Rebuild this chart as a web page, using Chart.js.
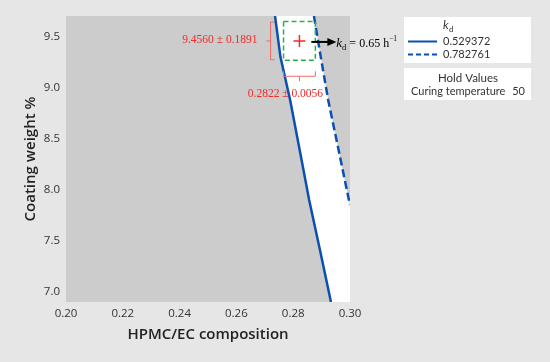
<!DOCTYPE html>
<html>
<head>
<meta charset="utf-8">
<script src="https://cdn.jsdelivr.net/npm/chart.js@4"></script>
<style>
  html, body { margin: 0; padding: 0; background: #e6e6e6; }
  canvas { display: block; }
</style>
</head>
<body>
<canvas id="contourChart" width="550" height="362"></canvas>
<script>
// Kontur-Plot: k_d ueber HPMC/EC und Coating weight

// Achsen
const xTicks = [0.20, 0.22, 0.24, 0.26, 0.28, 0.30];
const yTicks = [7.0, 7.5, 8.0, 8.5, 9.0, 9.5];

// Konturlinie k_d = 0.529372 (durchgezogen)
const solidX = [0.2736, 0.2755, 0.2789, 0.2822, 0.2856, 0.2895, 0.2933];
const solidY = [9.70, 9.30, 8.88, 8.40, 7.90, 7.40, 6.90];

// Konturlinie k_d = 0.782761 (gestrichelt)
const dashX = [0.2873, 0.2897, 0.2923, 0.2959, 0.2996, 0.3000];
const dashY = [9.70, 9.30, 8.88, 8.40, 7.90, 7.85];

// Optimum
const optX = 0.2822, optXsd = 0.0056;
const optY = 9.4560, optYsd = 0.1891;

const legendValues = ['0.529372', '0.782761'];

const blue = '#0b4fb3';
const red = '#f22a2a';
const sans = 'Lato, "Open Sans", sans-serif';
const serif = '"Liberation Serif", "DejaVu Serif", serif';

function pts(xs, ys) {
    return xs.map((x, i) => ({ x: x, y: ys[i] }));
}

// weisse Flaeche zwischen den beiden Linien
const whiteShape = pts(solidX, solidY)
    .concat([{ x: 0.30, y: 6.90 }])
    .concat(pts(dashX, dashY).reverse());

const boxPts = [
    { x: optX - optXsd, y: optY + optYsd },
    { x: optX + optXsd, y: optY + optYsd },
    { x: optX + optXsd, y: optY - optYsd },
    { x: optX - optXsd, y: optY - optYsd },
    { x: optX - optXsd, y: optY + optYsd }
];

const bgPlugin = {
    id: 'bg',
    beforeDraw(chart) {
        const { ctx, chartArea: a } = chart;
        ctx.save();
        ctx.fillStyle = '#e6e6e6';
        ctx.fillRect(0, 0, chart.width, chart.height);
        ctx.fillStyle = '#cccccc';
        ctx.fillRect(a.left, a.top, a.right - a.left, a.bottom - a.top);
        ctx.restore();
    }
};

const annoPlugin = {
    id: 'anno',
    afterDraw(chart) {
        const ctx = chart.ctx;
        const xs = chart.scales.x, ys = chart.scales.y;
        const bl = xs.getPixelForValue(optX - optXsd);
        const br = xs.getPixelForValue(optX + optXsd);
        const bt = ys.getPixelForValue(optY + optYsd);
        const bb = ys.getPixelForValue(optY - optYsd);
        const cx = xs.getPixelForValue(optX);
        const cy = ys.getPixelForValue(optY);
        ctx.save();

        // Klammern
        ctx.strokeStyle = '#f06a6a';
        ctx.lineWidth = 1;
        const lx = bl - 13;
        ctx.beginPath();
        ctx.moveTo(lx + 4, bt + 0.5); ctx.lineTo(lx, bt + 0.5);
        ctx.lineTo(lx, bb - 0.5); ctx.lineTo(lx + 4, bb - 0.5);
        ctx.moveTo(lx, cy); ctx.lineTo(lx - 4, cy);
        const by = bb + 16;
        ctx.moveTo(bl, by - 5); ctx.lineTo(bl, by);
        ctx.lineTo(br, by); ctx.lineTo(br, by - 5);
        ctx.moveTo(cx, by); ctx.lineTo(cx, by + 5);
        ctx.stroke();

        // rote Texte
        ctx.fillStyle = red;
        ctx.font = '11.5px ' + serif;
        ctx.textBaseline = 'middle';
        ctx.textAlign = 'right';
        ctx.fillText(optY.toFixed(4) + ' \u00b1 ' + optYsd.toFixed(4), lx - 13, cy - 1);
        ctx.textAlign = 'center';
        ctx.fillText(optX.toFixed(4) + ' \u00b1 ' + optXsd.toFixed(4), cx - 14, by + 18);

        // Pfeil
        ctx.strokeStyle = '#000';
        ctx.fillStyle = '#000';
        ctx.lineWidth = 2;
        const ay = cy + 1;
        ctx.beginPath();
        ctx.moveTo(br - 4, ay); ctx.lineTo(br + 14, ay);
        ctx.stroke();
        ctx.beginPath();
        ctx.moveTo(br + 21, ay); ctx.lineTo(br + 12, ay - 4); ctx.lineTo(br + 12, ay + 4);
        ctx.closePath(); ctx.fill();

        // k_d = 0.65 h^-1
        let tx = br + 21;
        const base = ay + 5;
        ctx.textAlign = 'left';
        ctx.textBaseline = 'alphabetic';
        ctx.font = 'italic 13px ' + serif;
        ctx.fillText('k', tx, base);
        tx += ctx.measureText('k').width;
        ctx.font = '8.5px ' + serif;
        ctx.fillText('d', tx, base + 3);
        tx += ctx.measureText('d').width + 3;
        ctx.font = '12px ' + serif;
        ctx.fillText('= 0.65 h', tx, base);
        tx += ctx.measureText('= 0.65 h').width;
        ctx.font = '7.5px ' + serif;
        ctx.fillText('\u22121', tx, base - 6);

        // Legende
        ctx.fillStyle = '#ffffff';
        ctx.fillRect(404, 17, 127, 46);
        ctx.fillRect(404, 68, 127, 32);
        ctx.fillStyle = '#333';
        ctx.textBaseline = 'middle';
        ctx.font = 'italic 12px ' + sans;
        ctx.fillText('k', 443, 25);
        ctx.font = '8px ' + sans;
        ctx.fillText('d', 449, 29);
        ctx.font = '11px ' + sans;
        ctx.fillText(legendValues[0], 443, 41);
        ctx.fillText(legendValues[1], 443, 54);
        ctx.strokeStyle = blue;
        ctx.lineWidth = 2;
        ctx.beginPath();
        ctx.moveTo(408, 41.5); ctx.lineTo(437, 41.5);
        ctx.stroke();
        ctx.setLineDash([5, 3]);
        ctx.beginPath();
        ctx.moveTo(408, 54.5); ctx.lineTo(437, 54.5);
        ctx.stroke();
        ctx.setLineDash([]);
        ctx.font = '11.5px ' + sans;
        ctx.textAlign = 'center';
        ctx.fillText('Hold Values', 468, 78);
        ctx.font = '11px ' + sans;
        ctx.textAlign = 'left';
        ctx.fillText('Curing temperature', 411, 91);
        ctx.textAlign = 'right';
        ctx.fillText('50', 525, 91);
        ctx.restore();
    }
};

const ctx = document.getElementById('contourChart').getContext('2d');
new Chart(ctx, {
    type: 'scatter',
    data: {
        datasets: [
            {
                data: [{ x: optX, y: optY }],
                pointStyle: 'cross',
                pointRadius: 6,
                borderColor: red,
                borderWidth: 1.5,
                order: 0
            },
            {
                data: boxPts,
                showLine: true,
                borderColor: '#25b04b',
                borderWidth: 1.5,
                borderDash: [5, 3],
                pointRadius: 0,
                order: 1
            },
            {
                data: pts(solidX, solidY),
                showLine: true,
                borderColor: blue,
                borderWidth: 2.5,
                pointRadius: 0,
                order: 2
            },
            {
                data: pts(dashX, dashY),
                showLine: true,
                borderColor: blue,
                borderWidth: 2.5,
                borderDash: [8, 4],
                pointRadius: 0,
                order: 3
            },
            {
                data: whiteShape,
                showLine: true,
                borderWidth: 0,
                borderColor: 'rgba(0,0,0,0)',
                backgroundColor: '#ffffff',
                fill: 'shape',
                pointRadius: 0,
                order: 4
            }
        ]
    },
    options: {
        responsive: false,
        animation: false,
        layout: { padding: { top: 16, right: 200, left: 0, bottom: 0 } },
        plugins: {
            legend: { display: false },
            tooltip: { enabled: false }
        },
        scales: {
            x: {
                type: 'linear',
                min: 0.20,
                max: 0.30,
                afterBuildTicks: s => { s.ticks = xTicks.map(v => ({ value: v })); },
                afterFit: s => { s.height = 60; },
                grid: { display: false, drawTicks: false, tickLength: 0 },
                border: { display: false },
                ticks: {
                    padding: 5,
                    color: '#333',
                    font: { family: '"Open Sans", sans-serif', size: 11.5 },
                    callback: v => v.toFixed(2)
                },
                title: {
                    display: true,
                    text: 'HPMC/EC composition',
                    color: '#222',
                    font: { family: '"Open Sans", sans-serif', size: 15, weight: '600' },
                    padding: { top: 0, bottom: 18 }
                }
            },
            y: {
                type: 'linear',
                min: 6.9,
                max: 9.7,
                afterBuildTicks: s => { s.ticks = yTicks.map(v => ({ value: v })); },
                afterFit: s => { s.width = 66; },
                grid: { display: false, drawTicks: false, tickLength: 0 },
                border: { display: false },
                ticks: {
                    padding: 6,
                    color: '#333',
                    font: { family: '"Open Sans", sans-serif', size: 11.5 },
                    callback: v => v.toFixed(1)
                },
                title: {
                    display: true,
                    text: 'Coating weight %',
                    color: '#222',
                    font: { family: '"Open Sans", sans-serif', size: 15, weight: '600' },
                    padding: { top: 22, bottom: 0 }
                }
            }
        }
    },
    plugins: [bgPlugin, annoPlugin]
});
</script>
</body>
</html>
